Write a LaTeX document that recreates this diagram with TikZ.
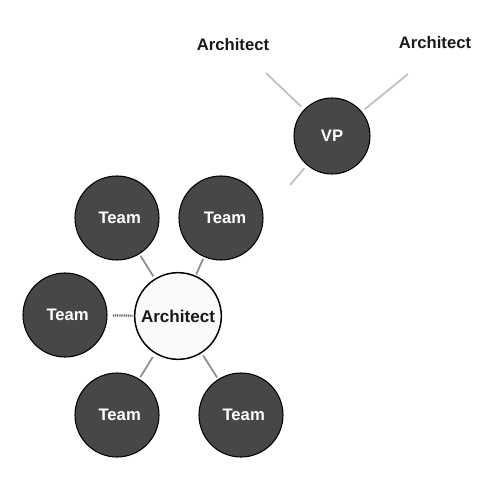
\documentclass[tikz,border=0pt]{standalone}
\usepackage{fontspec}
\setmainfont{Liberation Sans}
\begin{document}
\begin{tikzpicture}[x=0.75pt,y=-0.75pt,
  team/.style={circle,draw=black,line width=0.8pt,fill=black!72,minimum size=63pt,inner sep=0pt,text=white,font=\bfseries\fontsize{12.5}{14}\selectfont},
  archc/.style={circle,draw=black,line width=1.1pt,fill=black!2,minimum size=65pt,inner sep=0pt,text=black!90,font=\bfseries\fontsize{12.8}{14}\selectfont},
  lbl/.style={inner sep=0pt,text=black!90,font=\bfseries\fontsize{12.5}{14}\selectfont},
  conn/.style={draw=black!45,line width=1.3pt},
  lconn/.style={draw=black!25,line width=1.3pt},
  dconn/.style={draw=black!60,line width=1.6pt,dash pattern=on 1pt off 0.6pt}]
\useasboundingbox (0,0) rectangle (483,493);
\node[team,minimum size=57pt] (vp) at (332,136) {VP};
\node[lbl] (a1) at (233,45) {Architect};
\node[lbl] (a2) at (435,43) {Architect};
\node[archc] (arch) at (178,316) {Architect};
\node[team] (t1) at (117,218) {\hspace*{4pt}Team};
\node[team] (t2) at (221,218) {\hspace*{6pt}Team};
\node[team] (t3) at (65,315) {\hspace*{4pt}Team};
\node[team] (t4) at (117,415) {\hspace*{4pt}Team};
\node[team] (t5) at (241,415) {\hspace*{4pt}Team};
\coordinate (e1) at (266,73);
\coordinate (e2) at (408,74);
\coordinate (e3) at (290,185);
\draw[lconn,shorten <=3pt] (vp) -- (e1);
\draw[lconn,shorten <=3pt] (vp) -- (e2);
\draw[lconn,shorten <=3pt] (vp) -- (e3);
\draw[conn,shorten <=1.5pt,shorten >=2pt] (t1) -- (arch);
\draw[conn,shorten <=1.5pt,shorten >=1pt] (t2) -- (arch);
\draw[dconn,shorten <=4pt,shorten >=1pt] (t3) -- (arch);
\draw[conn,shorten <=1.5pt,shorten >=3pt] (t4) -- (arch);
\draw[conn,shorten <=1.5pt,shorten >=2pt] (t5) -- (arch);
\end{tikzpicture}
\end{document}
